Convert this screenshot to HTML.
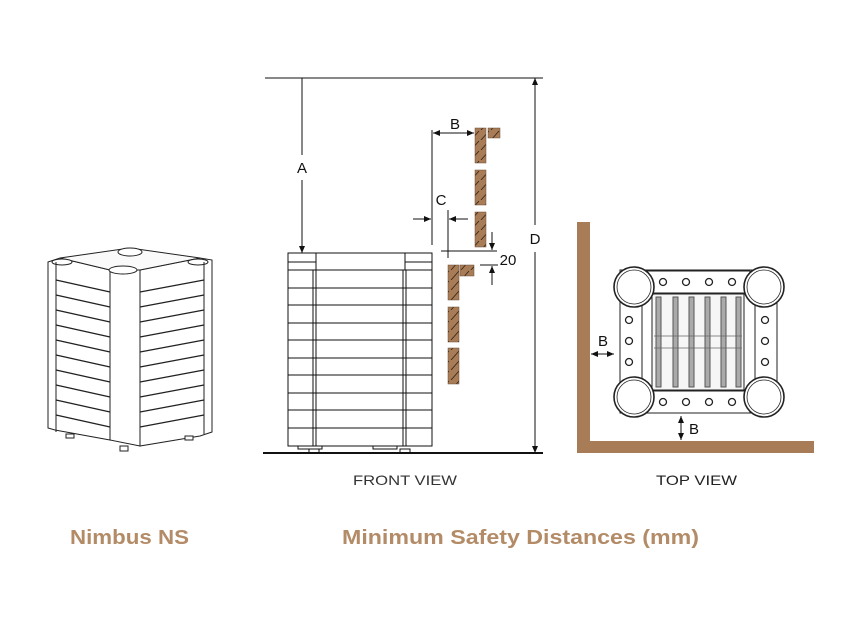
<!DOCTYPE html>
<html><head><meta charset="utf-8"><style>
html,body{margin:0;padding:0;background:#fff;width:860px;height:619px;overflow:hidden}
svg{display:block}
text{font-family:"Liberation Sans",sans-serif}
</style></head><body>
<svg width="860" height="619" viewBox="0 0 860 619" xmlns="http://www.w3.org/2000/svg">
<defs>
<marker id="ar" markerWidth="8" markerHeight="8" refX="7" refY="4" orient="auto" markerUnits="userSpaceOnUse">
<path d="M0,1 L7,4 L0,7 z" fill="#111"/></marker>
<pattern id="wood" width="10" height="10" patternUnits="userSpaceOnUse">
<rect width="10" height="10" fill="#a87c56"/><path d="M1,10 L9,1" stroke="#2e2015" stroke-width="0.8"/></pattern>
</defs>

<!-- ISOMETRIC UNIT -->
<g stroke="#222" stroke-width="1" fill="#fff">
<path d="M48,262 L60,258 L110,270 L110,440 L55,430 L48,428 Z"/>
<path d="M110,270 L140,270 L140,446 L110,440 Z"/>
<path d="M140,270 L200,258 L212,260 L212,432 L200,436 L140,446 Z"/>
<path d="M60,258 L130,248 L200,258 L140,270 L110,270 Z" fill="#fafafa"/>
<ellipse cx="130" cy="252" rx="12" ry="4"/>
<ellipse cx="123" cy="270" rx="14" ry="4"/>
<ellipse cx="62" cy="262" rx="10" ry="3"/>
<ellipse cx="198" cy="262" rx="10" ry="3"/>
<line x1="56" y1="262" x2="56" y2="432"/>
<line x1="204" y1="262" x2="204" y2="434"/>
<g stroke-width="1.3">
<line x1="56" y1="280" x2="110" y2="292"/><line x1="140" y1="292" x2="204" y2="280"/>
<line x1="56" y1="295" x2="110" y2="307"/><line x1="140" y1="307" x2="204" y2="295"/>
<line x1="56" y1="310" x2="110" y2="322"/><line x1="140" y1="322" x2="204" y2="310"/>
<line x1="56" y1="325" x2="110" y2="337"/><line x1="140" y1="337" x2="204" y2="325"/>
<line x1="56" y1="340" x2="110" y2="352"/><line x1="140" y1="352" x2="204" y2="340"/>
<line x1="56" y1="355" x2="110" y2="367"/><line x1="140" y1="367" x2="204" y2="355"/>
<line x1="56" y1="370" x2="110" y2="382"/><line x1="140" y1="382" x2="204" y2="370"/>
<line x1="56" y1="385" x2="110" y2="397"/><line x1="140" y1="397" x2="204" y2="385"/>
<line x1="56" y1="400" x2="110" y2="412"/><line x1="140" y1="412" x2="204" y2="400"/>
<line x1="56" y1="415" x2="110" y2="427"/><line x1="140" y1="427" x2="204" y2="415"/>
</g>
<rect x="66" y="434" width="8" height="4"/><rect x="120" y="446" width="8" height="5"/><rect x="185" y="436" width="8" height="4"/>
</g>

<!-- FRONT VIEW -->
<g stroke="#111" stroke-width="1" fill="none">
<line x1="265" y1="78" x2="543" y2="78"/>
<line x1="263" y1="453" x2="543" y2="453" stroke-width="2"/>
<line x1="302" y1="78" x2="302" y2="155"/>
<line x1="302" y1="180" x2="302" y2="253" marker-end="url(#ar)"/>
<line x1="535" y1="78" x2="535" y2="225"/>
<line x1="535" y1="252" x2="535" y2="453" marker-end="url(#ar)"/>
<line x1="535" y1="86" x2="535" y2="78" marker-end="url(#ar)"/>
<rect x="288" y="253" width="144" height="193" fill="#fff"/>
<rect x="288" y="253" width="28" height="17" fill="#fff"/>
<rect x="405" y="253" width="27" height="17" fill="#fff"/>
<line x1="288" y1="262" x2="316" y2="262"/><line x1="405" y1="262" x2="432" y2="262"/>
<line x1="288" y1="270" x2="432" y2="270"/>
<line x1="288" y1="288" x2="432" y2="288"/><line x1="288" y1="305" x2="432" y2="305"/>
<line x1="288" y1="323" x2="432" y2="323"/><line x1="288" y1="340" x2="432" y2="340"/>
<line x1="288" y1="358" x2="432" y2="358"/><line x1="288" y1="375" x2="432" y2="375"/>
<line x1="288" y1="393" x2="432" y2="393"/><line x1="288" y1="410" x2="432" y2="410"/>
<line x1="288" y1="428" x2="432" y2="428"/>
<line x1="313" y1="270" x2="313" y2="446"/><line x1="316" y1="270" x2="316" y2="446"/>
<line x1="403" y1="270" x2="403" y2="446"/><line x1="406" y1="270" x2="406" y2="446"/>
<rect x="298" y="446" width="24" height="3"/><rect x="373" y="446" width="24" height="3"/>
<rect x="309" y="449" width="10" height="4"/><rect x="400" y="449" width="10" height="4"/>
<line x1="432" y1="130" x2="432" y2="245"/>
<line x1="450" y1="133" x2="474" y2="133" marker-end="url(#ar)"/>
<line x1="450" y1="133" x2="433" y2="133" marker-end="url(#ar)"/>
<line x1="413" y1="219" x2="431" y2="219" marker-end="url(#ar)"/>
<line x1="468" y1="219" x2="449" y2="219" marker-end="url(#ar)"/>
<line x1="448" y1="210" x2="448" y2="258"/>
<line x1="441" y1="251" x2="497" y2="251"/>
<line x1="480" y1="265" x2="498" y2="265"/>
<line x1="492" y1="232" x2="492" y2="250" marker-end="url(#ar)"/>
<line x1="492" y1="285" x2="492" y2="266" marker-end="url(#ar)"/>
</g>
<g fill="url(#wood)" stroke="#6b4e35" stroke-width="0.5">
<rect x="475" y="128" width="11" height="35"/><rect x="488" y="128" width="12" height="10"/>
<rect x="475" y="170" width="11" height="35"/><rect x="475" y="212" width="11" height="35"/>
<rect x="448" y="265" width="11" height="35"/><rect x="460" y="265" width="14" height="11"/>
<rect x="448" y="307" width="11" height="35"/><rect x="448" y="348" width="11" height="36"/>
</g>
<g font-size="15" fill="#111">
<text x="302" y="173" text-anchor="middle">A</text>
<text x="455" y="129" text-anchor="middle">B</text>
<text x="441" y="205" text-anchor="middle">C</text>
<text x="508" y="265" text-anchor="middle">20</text>
<text x="535" y="244" text-anchor="middle">D</text>
</g>

<!-- TOP VIEW -->
<rect x="577" y="222" width="13" height="231" fill="#a87c56"/>
<rect x="577" y="441" width="237" height="12" fill="#a87c56"/>
<g stroke="#222" stroke-width="1" fill="#fff">
<rect x="620" y="270" width="155" height="143" fill="#fff"/>
<rect x="645" y="271" width="105" height="22"/>
<rect x="645" y="391" width="105" height="22"/>
<rect x="620" y="300" width="22" height="85"/>
<rect x="755" y="300" width="22" height="85"/>
<rect x="652" y="294" width="92" height="96" fill="#f6f6f6"/>
<g fill="#aaa" stroke="#555">
<rect x="656" y="297" width="5" height="90"/><rect x="673" y="297" width="5" height="90"/>
<rect x="689" y="297" width="5" height="90"/><rect x="705" y="297" width="5" height="90"/>
<rect x="721" y="297" width="5" height="90"/><rect x="736" y="297" width="5" height="90"/>
</g>
<g stroke="#666" stroke-width="0.8">
<line x1="654" y1="336" x2="742" y2="336"/><line x1="654" y1="348" x2="742" y2="348"/>
</g>
<g stroke-width="1.6">
<circle cx="634" cy="287" r="20"/><circle cx="764" cy="287" r="20"/>
<circle cx="634" cy="397" r="20"/><circle cx="764" cy="397" r="20"/>
</g>
<g stroke-width="0.8" fill="none">
<circle cx="634" cy="287" r="17"/><circle cx="764" cy="287" r="17"/>
<circle cx="634" cy="397" r="17"/><circle cx="764" cy="397" r="17"/>
</g>
<g stroke-width="1.3">
<circle cx="663" cy="282" r="3.5"/><circle cx="686" cy="282" r="3.5"/><circle cx="709" cy="282" r="3.5"/><circle cx="732" cy="282" r="3.5"/>
<circle cx="663" cy="402" r="3.5"/><circle cx="686" cy="402" r="3.5"/><circle cx="709" cy="402" r="3.5"/><circle cx="732" cy="402" r="3.5"/>
<circle cx="629" cy="320" r="3.5"/><circle cx="629" cy="341" r="3.5"/><circle cx="629" cy="362" r="3.5"/>
<circle cx="765" cy="320" r="3.5"/><circle cx="765" cy="341" r="3.5"/><circle cx="765" cy="362" r="3.5"/>
</g>
</g>
<g stroke="#111" stroke-width="1">
<line x1="602" y1="354" x2="591" y2="354" marker-end="url(#ar)"/>
<line x1="602" y1="354" x2="614" y2="354" marker-end="url(#ar)"/>
<line x1="681" y1="428" x2="681" y2="416" marker-end="url(#ar)"/>
<line x1="681" y1="428" x2="681" y2="440" marker-end="url(#ar)"/>
</g>
<g font-size="15" fill="#111">
<text x="603" y="346" text-anchor="middle">B</text>
<text x="694" y="434" text-anchor="middle">B</text>
</g>

<text x="353" y="485" font-size="14" fill="#333" textLength="104" lengthAdjust="spacingAndGlyphs">FRONT VIEW</text>
<text x="656" y="485" font-size="14" fill="#222" textLength="81" lengthAdjust="spacingAndGlyphs">TOP VIEW</text>
<text x="70" y="544" font-size="20" font-weight="bold" fill="#b38b67" textLength="119" lengthAdjust="spacingAndGlyphs">Nimbus NS</text>
<text x="342" y="544" font-size="20" font-weight="bold" fill="#b38b67" textLength="357" lengthAdjust="spacingAndGlyphs">Minimum Safety Distances (mm)</text>
</svg>
</body></html>
